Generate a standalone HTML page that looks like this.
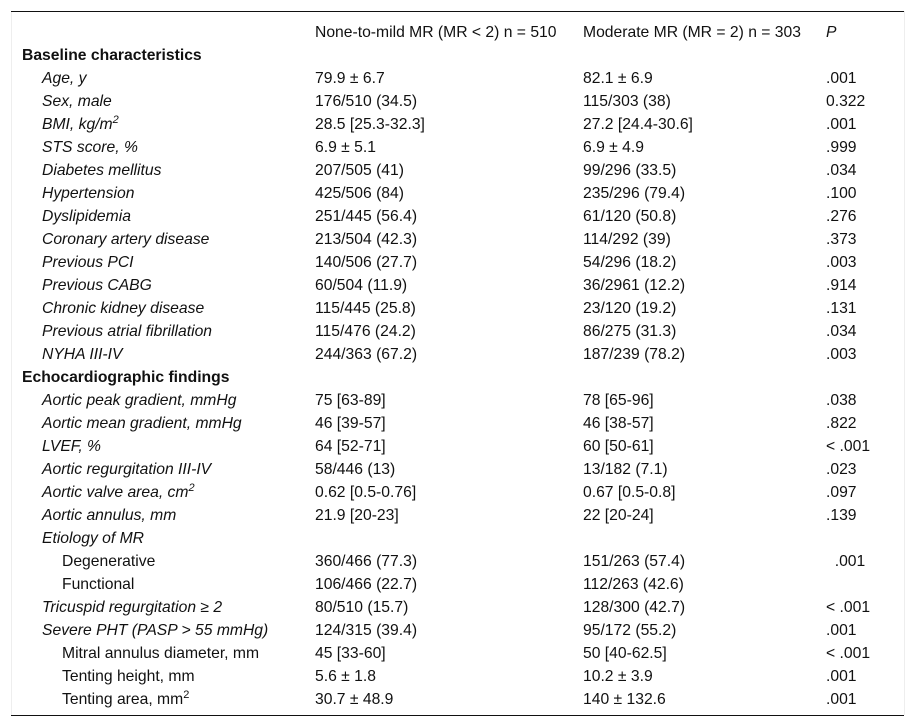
<!DOCTYPE html>
<html><head><meta charset="utf-8"><style>
body{margin:0;width:915px;height:727px;background:#fff;position:relative;font-family:"Liberation Sans",Arial,sans-serif;font-size:15.7px;color:#111;overflow:hidden}
.frame{position:absolute;left:11px;top:11px;width:892px;height:704px;border-left:1px solid #eee;border-right:1px solid #eee}
.hl{position:absolute;left:11px;width:893px;height:1px;background:#111}
.r{position:absolute;height:23px;line-height:23px;white-space:nowrap}
.b{font-weight:bold}.i{font-style:italic}
sup{font-size:11px;line-height:0}
</style></head><body>
<div class="frame"></div>
<div class="hl" style="top:11px"></div>
<div class="hl" style="top:715px"></div>
<div id="t"></div>
<script>
const rows=[
["h","","None-to-mild MR (MR &lt; 2) n = 510","Moderate MR (MR = 2) n = 303","<i>P</i>"],
["b","Baseline characteristics","","",""],
["i","Age, y","79.9 ± 6.7","82.1 ± 6.9",".001"],
["i","Sex, male","176/510 (34.5)","115/303 (38)","0.322"],
["i","BMI, kg/m<sup>2</sup>","28.5 [25.3-32.3]","27.2 [24.4-30.6]",".001"],
["i","STS score, %","6.9 ± 5.1","6.9 ± 4.9",".999"],
["i","Diabetes mellitus","207/505 (41)","99/296 (33.5)",".034"],
["i","Hypertension","425/506 (84)","235/296 (79.4)",".100"],
["i","Dyslipidemia","251/445 (56.4)","61/120 (50.8)",".276"],
["i","Coronary artery disease","213/504 (42.3)","114/292 (39)",".373"],
["i","Previous PCI","140/506 (27.7)","54/296 (18.2)",".003"],
["i","Previous CABG","60/504 (11.9)","36/2961 (12.2)",".914"],
["i","Chronic kidney disease","115/445 (25.8)","23/120 (19.2)",".131"],
["i","Previous atrial fibrillation","115/476 (24.2)","86/275 (31.3)",".034"],
["i","NYHA III-IV","244/363 (67.2)","187/239 (78.2)",".003"],
["b","Echocardiographic findings","","",""],
["i","Aortic peak gradient, mmHg","75 [63-89]","78 [65-96]",".038"],
["i","Aortic mean gradient, mmHg","46 [39-57]","46 [38-57]",".822"],
["i","LVEF, %","64 [52-71]","60 [50-61]","&lt; .001"],
["i","Aortic regurgitation III-IV","58/446 (13)","13/182 (7.1)",".023"],
["i","Aortic valve area, cm<sup>2</sup>","0.62 [0.5-0.76]","0.67 [0.5-0.8]",".097"],
["i","Aortic annulus, mm","21.9 [20-23]","22 [20-24]",".139"],
["i","Etiology of MR","","",""],
["s","Degenerative","360/466 (77.3)","151/263 (57.4)","&nbsp;&nbsp;.001"],
["s","Functional","106/466 (22.7)","112/263 (42.6)",""],
["i","Tricuspid regurgitation ≥ 2","80/510 (15.7)","128/300 (42.7)","&lt; .001"],
["i","Severe PHT (PASP &gt; 55 mmHg)","124/315 (39.4)","95/172 (55.2)",".001"],
["s","Mitral annulus diameter, mm","45 [33-60]","50 [40-62.5]","&lt; .001"],
["s","Tenting height, mm","5.6 ± 1.8","10.2 ± 3.9",".001"],
["s","Tenting area, mm<sup>2</sup>","30.7 ± 48.9","140 ± 132.6",".001"]];
let h="";
rows.forEach((r,k)=>{const top=20.5+23*k;
const x=r[0]=="b"?22:r[0]=="s"?62:42;const c=r[0]=="b"?"b":r[0]=="i"?"i":"";
h+=`<div class="r ${c}" style="left:${x}px;top:${top}px">${r[1]}</div>`;
h+=`<div class="r" style="left:315px;top:${top}px">${r[2]}</div>`;
h+=`<div class="r" style="left:583px;top:${top}px">${r[3]}</div>`;
h+=`<div class="r" style="left:826px;top:${top}px">${r[4]}</div>`;});
document.getElementById("t").innerHTML=h;
</script>
</body></html>
